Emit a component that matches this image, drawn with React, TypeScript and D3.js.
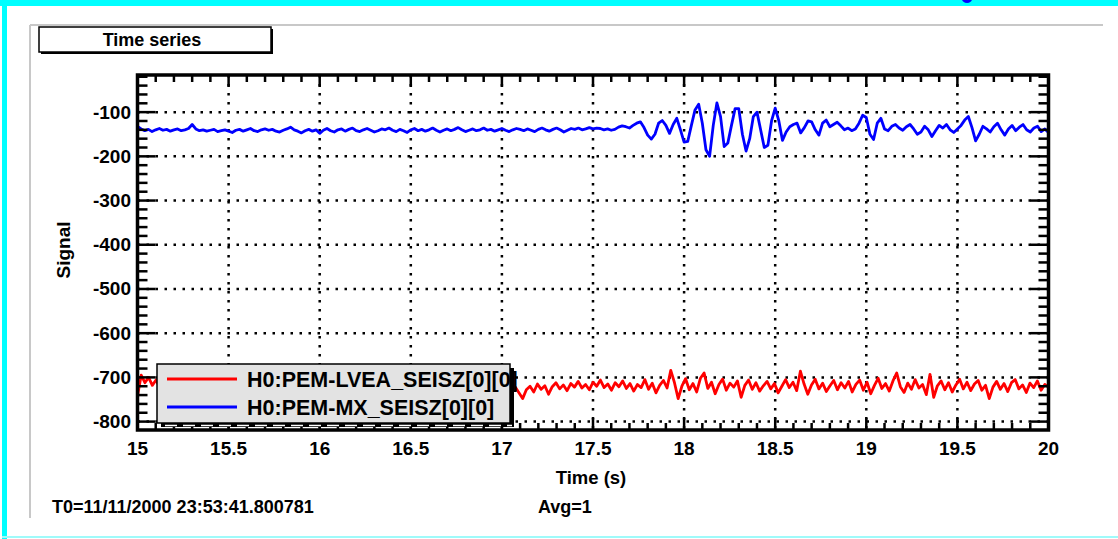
import React from 'react'
import * as d3 from 'd3'

const width = 1118
const height = 539
const frame = { left: 137.5, right: 1048.5, top: 75, bottom: 430 }
const font = "'Liberation Sans', Arial, Helvetica, sans-serif"

// time axis (s) and signal axis
const tStart = 15
const tEnd = 20
const xTicks = [15, 15.5, 16, 16.5, 17, 17.5, 18, 18.5, 19, 19.5, 20]
const yTicks = [-100, -200, -300, -400, -500, -600, -700, -800]
const yDomain = [-819, -16]

const title = 'Time series'
const xTitle = 'Time (s)'
const yTitle = 'Signal'
const startTime = 'T0=11/11/2000 23:53:41.800781'
const avgText = 'Avg=1'

const seriesNames = ['H0:PEM-LVEA_SEISZ[0][0]', 'H0:PEM-MX_SEISZ[0][0]']
const seriesColors = ['#ff0000', '#0000ff']

// H0:PEM-LVEA_SEISZ[0][0], one sample every 0.02 s from 15 s to 20 s
const lveaSeisz = [
  -742, -695, -712, -700, -718, -706,
  -722, -714, -728, -716, -724, -710, -726, -719, -731, -715,
  -721, -708, -725, -717, -729, -713, -720, -727, -711, -723,
  -718, -732, -714, -721, -709, -726, -716, -730, -719, -712,
  -724, -717, -728, -710, -722, -715, -733, -720, -713, -725,
  -718, -707, -723, -716, -729, -712, -721, -726, -714, -719,
  -731, -715, -722, -709, -727, -717, -724, -712, -720, -729,
  -716, -723, -710, -726, -718, -732, -714, -721, -711, -725,
  -717, -728, -713, -722, -719, -730, -715, -724, -708, -720,
  -727, -716, -723, -711, -729, -718, -714, -725, -720, -731,
  -713, -722, -717,
  -725, -718, -732, -722, -735, -748, -728, -720, -733, -715,
  -727, -719, -738, -721, -712, -726, -717, -730, -714, -722,
  -709, -724, -716, -728, -711, -720, -706, -723, -715, -729,
  -712, -721, -708, -725, -714, -731, -716, -723, -705, -727,
  -713, -735, -718, -707, -724, -684, -712, -748, -720, -703,
  -728, -714, -733, -702, -690, -725, -711, -737, -716, -704,
  -729, -713, -722, -708, -745, -718, -706, -727, -712, -731,
  -719, -709, -726, -714, -735, -720, -705, -723, -711, -730,
  -686, -715, -738, -717, -704, -726, -713, -732, -719, -707,
  -728, -712, -724, -709, -733, -716, -706, -729, -711, -737,
  -718, -702, -725, -714, -731, -708, -690, -721, -734, -713,
  -727, -705, -724, -716, -739, -693, -745, -719, -708, -728,
  -712, -733, -717, -704, -726, -711, -730, -715, -707, -729,
  -718, -748, -722, -709, -727, -714, -732, -712, -705, -726,
  -717, -734, -713, -723, -708, -729, -716, -722,
]

// H0:PEM-MX_SEISZ[0][0], one sample every 0.02 s from 15 s to 20 s
const mxSeisz = [
  -132, -138, -142, -139, -144, -140, -137, -141, -139, -143,
  -140, -138, -142, -140, -137, -128, -138, -142, -140, -143,
  -141, -139, -144, -142, -140, -143, -146, -141, -139, -143,
  -140, -137, -142, -144, -140, -138, -141, -139, -143, -145,
  -141, -138, -134, -140, -143, -147, -142, -139, -143, -140,
  -148, -141, -137, -142, -145, -140, -138, -143, -139, -136,
  -142, -144, -140, -137, -141, -145, -142, -138, -140, -136,
  -141, -144, -139, -142, -146, -140, -137, -142, -139, -143,
  -140, -136, -141, -145, -141, -138, -142, -139, -135, -140,
  -144, -141, -138, -142, -140, -136, -141, -139, -143, -140,
  -137, -141, -144, -140, -137, -139, -142, -138, -141, -144,
  -139, -136, -140, -143, -139, -136, -140, -145, -141, -137,
  -139, -136, -140, -138, -135, -138, -136, -137, -140, -138,
  -141, -139, -134, -131, -133, -136, -130, -125, -122, -135,
  -152, -161, -150, -125, -119, -130, -148, -128, -114, -140,
  -168, -166, -130, -95, -82, -125, -185, -200, -130, -79,
  -110, -178, -170, -130, -92, -92, -150, -188, -160, -110,
  -100, -140, -180, -175, -120, -91, -120, -164, -145, -133,
  -128, -125, -147, -135, -120, -122, -140, -152, -125, -118,
  -133, -128, -123, -131, -140, -136, -142, -138, -125, -107,
  -112, -150, -162, -125, -114, -138, -142, -132, -128, -136,
  -141, -133, -128, -138, -150, -145, -132, -140, -155, -142,
  -130, -136, -128, -140, -146, -138, -130, -118, -110, -135,
  -165, -150, -132, -138, -145, -133, -125, -140, -152, -138,
  -130, -142, -134, -128, -140, -145, -136, -132, -144, -138,
  -146,
]

const series = [lveaSeisz, mxSeisz]

const App = () => {
  const x = d3.scaleLinear().domain([tStart, tEnd]).range([frame.left, frame.right])
  const y = d3.scaleLinear().domain(yDomain).range([frame.bottom, frame.top])

  const lineGen = d3.line<number>()
    .x((_, i, arr) => x(tStart + (i * (tEnd - tStart)) / (arr.length - 1)))
    .y(d => y(d))

  const xMinor = d3.range(tStart, tEnd + 0.001, 0.1)
  const yMinor = d3.range(-800, yDomain[1], 20).concat([-820]).filter(v => v >= yDomain[0])

  const dotted = { stroke: '#000', strokeWidth: 2.5, strokeDasharray: '2.5 6.5' }

  return (
    <svg width={width} height={height} style={{ position: 'absolute', left: 0, top: 0, display: 'block' }}
      fontFamily={font} fontWeight='bold'>
      <rect x={0} y={0} width={width} height={height} fill='#fff' />
      {/* canvas border */}
      <rect x={0} y={0} width={width} height={6} fill='#00ffff' />
      <rect x={2} y={0} width={5} height={height} fill='#00ffff' />
      <rect x={2} y={536} width={width} height={2} fill='#9ffafa' />
      <ellipse cx={967} cy={-1} rx={5} ry={4} fill='#0000ff' />
      <line x1={30} y1={25} x2={1103} y2={25} stroke='#c8c8c8' strokeWidth={2} />
      <line x1={30} y1={25} x2={30} y2={518} stroke='#c8c8c8' strokeWidth={2} />

      {/* title box */}
      <rect x={41} y={29} width={232} height={25} fill='#000' />
      <rect x={39} y={27} width={232} height={25} fill='#fff' stroke='#000' strokeWidth={1.5} />
      <text x={152} y={46} fontSize={18} textAnchor='middle'>{title}</text>

      <defs>
        <clipPath id='plotArea'>
          <rect x={frame.left} y={frame.top} width={frame.right - frame.left} height={frame.bottom - frame.top} />
        </clipPath>
      </defs>

      {/* grid */}
      {xTicks.slice(1, -1).map(t => (
        <line key={'gx' + t} x1={x(t)} x2={x(t)} y1={frame.top} y2={frame.bottom} {...dotted} />
      ))}
      {yTicks.map(v => (
        <line key={'gy' + v} x1={frame.left} x2={frame.right} y1={y(v)} y2={y(v)} {...dotted} />
      ))}

      {/* traces */}
      <g clipPath='url(#plotArea)'>
        {series.map((s, i) => (
          <path key={seriesNames[i]} d={lineGen(s) ?? ''} fill='none' stroke={seriesColors[i]}
            strokeWidth={2.8} strokeLinejoin='round' />
        ))}
      </g>

      {/* ticks */}
      {xMinor.map(t => {
        const major = xTicks.some(m => Math.abs(m - t) < 1e-6)
        const len = major ? 12 : 7
        return (
          <g key={'tx' + t}>
            <line x1={x(t)} x2={x(t)} y1={frame.bottom} y2={frame.bottom - len} stroke='#000' strokeWidth={2.5} />
            <line x1={x(t)} x2={x(t)} y1={frame.top} y2={frame.top + len} stroke='#000' strokeWidth={2.5} />
          </g>
        )
      })}
      {yMinor.map(v => {
        const major = yTicks.includes(v)
        const len = major ? 18 : 10
        return (
          <g key={'ty' + v}>
            <line x1={frame.left} x2={frame.left + len} y1={y(v)} y2={y(v)} stroke='#000' strokeWidth={2.5} />
            <line x1={frame.right} x2={frame.right - len} y1={y(v)} y2={y(v)} stroke='#000' strokeWidth={2.5} />
          </g>
        )
      })}

      <rect x={frame.left} y={frame.top} width={frame.right - frame.left} height={frame.bottom - frame.top}
        fill='none' stroke='#000' strokeWidth={3.5} />

      {/* tick labels */}
      {xTicks.map(t => (
        <text key={'lx' + t} x={x(t)} y={455} fontSize={19} textAnchor='middle'>{String(t)}</text>
      ))}
      {yTicks.map(v => (
        <text key={'ly' + v} x={131} y={y(v)} fontSize={19} textAnchor='end' dominantBaseline='central'>{String(v)}</text>
      ))}

      <text x={591} y={484} fontSize={18.5} textAnchor='middle'>{xTitle}</text>
      <text transform='translate(70,250) rotate(-90)' fontSize={19} textAnchor='middle'>{yTitle}</text>

      {/* legend */}
      <rect x={161} y={368} width={353} height={59} fill='#000' />
      <line x1={165} x2={512} y1={425.5} y2={425.5} stroke='#fff' strokeWidth={1.5} strokeDasharray='12 6' />
      <rect x={157} y={364} width={353} height={59} fill='#e3e3e3' stroke='#000' strokeWidth={1.5} />
      {seriesNames.map((name, i) => (
        <g key={'lg' + name}>
          <line x1={167} x2={237} y1={379 + i * 28} y2={379 + i * 28} stroke={seriesColors[i]} strokeWidth={2.8} />
          <text x={247} y={387 + i * 28} fontSize={21.5}>{name}</text>
        </g>
      ))}

      <text x={52} y={513} fontSize={18}>{startTime}</text>
      <text x={538} y={513} fontSize={18}>{avgText}</text>
    </svg>
  )
}

export default App
